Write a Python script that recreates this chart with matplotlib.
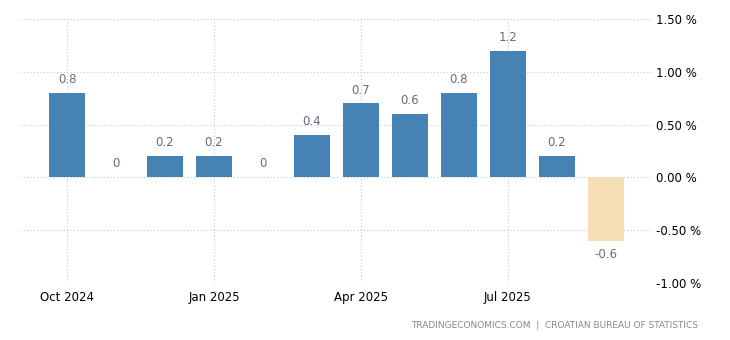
import matplotlib
matplotlib.use("Agg")
import matplotlib.pyplot as plt
from matplotlib.ticker import FixedLocator

months = ["Oct 2024", "Nov 2024", "Dec 2024", "Jan 2025", "Feb 2025", "Mar 2025",
          "Apr 2025", "May 2025", "Jun 2025", "Jul 2025", "Aug 2025", "Sep 2025"]
values = [0.8, 0.0, 0.2, 0.2, 0.0, 0.4, 0.7, 0.6, 0.8, 1.2, 0.2, -0.6]
value_labels = ["0.8", "0", "0.2", "0.2", "0", "0.4", "0.7", "0.6", "0.8", "1.2", "0.2", "-0.6"]
tick_months = ["Oct 2024", "Jan 2025", "Apr 2025", "Jul 2025"]
y_ticks = [-1.0, -0.5, 0.0, 0.5, 1.0, 1.5]
y_tick_labels = ["-1.00 %", "-0.50 %", "0.00 %", "0.50 %", "1.00 %", "1.50 %"]

fig = plt.figure(figsize=(7.30, 3.40), dpi=100)
ax = fig.add_axes([20/730, 57/340, 633/730, 264/340])

x = list(range(len(months)))
colors = ["#4682B4" if v >= 0 else "#F5DEB3" for v in values]
ax.bar(x, values, width=0.74, color=colors, zorder=3)

for xi, v, lab in zip(x, values, value_labels):
    if v >= 0:
        ax.annotate(lab, (xi, v), xytext=(0, 5), textcoords="offset points",
                    ha="center", va="bottom", fontsize=8.5, color="#6b6b80")
    else:
        ax.annotate(lab, (xi, v), xytext=(0, -5), textcoords="offset points",
                    ha="center", va="top", fontsize=8.5, color="#6b6b80")

ax.set_xlim(-0.96, 11.96)
ax.set_ylim(-1.0, 1.5)
ax.yaxis.tick_right()
ax.set_yticks(y_ticks)
ax.set_yticklabels(y_tick_labels, fontsize=8.5, color="#000000")
tick_pos = [months.index(m) for m in tick_months]
ax.set_xticks(tick_pos)
ax.set_xticklabels(tick_months, fontsize=8.5, color="#000000")
ax.tick_params(axis="both", length=0)
ax.tick_params(axis="y", pad=2)
ax.tick_params(axis="x", pad=6)
ax.grid(True, which="major", color="#c8c8c8", linestyle=(0, (1, 2)), linewidth=0.8, zorder=0)
for s in ax.spines.values():
    s.set_visible(False)

fig.text(698/730, 1 - 325/340, "TRADINGECONOMICS.COM  |  CROATIAN BUREAU OF STATISTICS",
         ha="right", va="center", fontsize=6.5, color="#888888")

fig.savefig("out.png", dpi=100)
